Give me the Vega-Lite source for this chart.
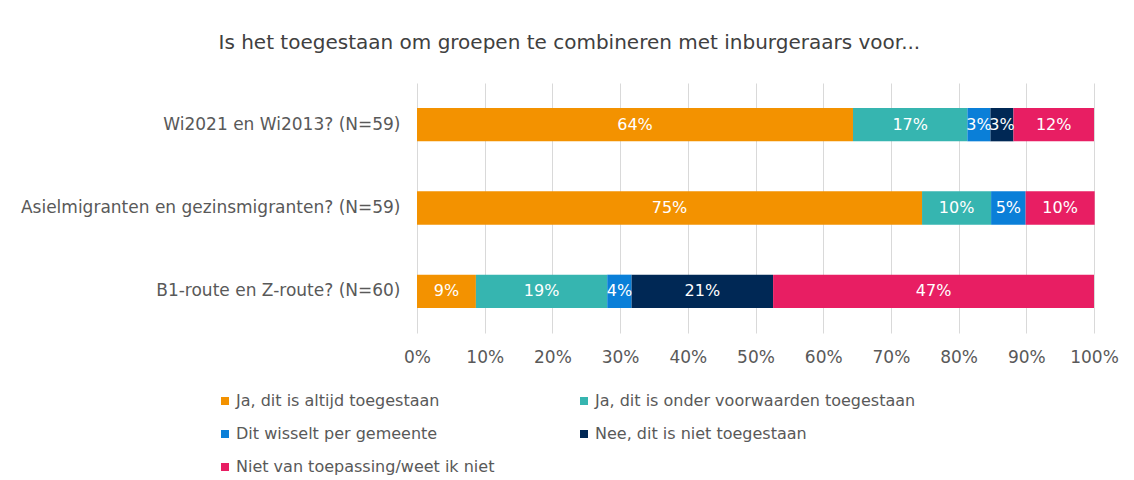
{
  "$schema": "https://vega.github.io/schema/vega-lite/v6.json",
  "autosize": "none",
  "width": 677,
  "height": 250,
  "padding": {"left": 417, "top": 83, "right": 40, "bottom": 147},
  "background": "white",
  "title": {
    "text": "Is het toegestaan om groepen te combineren met inburgeraars voor...",
    "anchor": "middle",
    "frame": "bounds",
    "font": "DejaVu Sans",
    "fontSize": 20,
    "fontWeight": "normal",
    "color": "#404040",
    "offset": 30
  },
  "config": {
    "view": {"stroke": null},
    "font": "DejaVu Sans"
  },
  "data": {
    "values": [
      {"vraag": "Wi2021 en Wi2013? (N=59)", "antwoord": "Ja, dit is altijd toegestaan", "k": 1, "aandeel": 0.644},
      {"vraag": "Wi2021 en Wi2013? (N=59)", "antwoord": "Ja, dit is onder voorwaarden toegestaan", "k": 2, "aandeel": 0.169},
      {"vraag": "Wi2021 en Wi2013? (N=59)", "antwoord": "Dit wisselt per gemeente", "k": 3, "aandeel": 0.034},
      {"vraag": "Wi2021 en Wi2013? (N=59)", "antwoord": "Nee, dit is niet toegestaan", "k": 4, "aandeel": 0.034},
      {"vraag": "Wi2021 en Wi2013? (N=59)", "antwoord": "Niet van toepassing/weet ik niet", "k": 5, "aandeel": 0.119},
      {"vraag": "Asielmigranten en gezinsmigranten? (N=59)", "antwoord": "Ja, dit is altijd toegestaan", "k": 1, "aandeel": 0.746},
      {"vraag": "Asielmigranten en gezinsmigranten? (N=59)", "antwoord": "Ja, dit is onder voorwaarden toegestaan", "k": 2, "aandeel": 0.102},
      {"vraag": "Asielmigranten en gezinsmigranten? (N=59)", "antwoord": "Dit wisselt per gemeente", "k": 3, "aandeel": 0.051},
      {"vraag": "Asielmigranten en gezinsmigranten? (N=59)", "antwoord": "Niet van toepassing/weet ik niet", "k": 5, "aandeel": 0.102},
      {"vraag": "B1-route en Z-route? (N=60)", "antwoord": "Ja, dit is altijd toegestaan", "k": 1, "aandeel": 0.087},
      {"vraag": "B1-route en Z-route? (N=60)", "antwoord": "Ja, dit is onder voorwaarden toegestaan", "k": 2, "aandeel": 0.194},
      {"vraag": "B1-route en Z-route? (N=60)", "antwoord": "Dit wisselt per gemeente", "k": 3, "aandeel": 0.036},
      {"vraag": "B1-route en Z-route? (N=60)", "antwoord": "Nee, dit is niet toegestaan", "k": 4, "aandeel": 0.209},
      {"vraag": "B1-route en Z-route? (N=60)", "antwoord": "Niet van toepassing/weet ik niet", "k": 5, "aandeel": 0.474}
    ]
  },
  "transform": [
    {"stack": "aandeel", "groupby": ["vraag"], "sort": [{"field": "k", "order": "ascending"}], "as": ["x0", "x1"]},
    {"calculate": "(datum.x0 + datum.x1) / 2", "as": "xm"}
  ],
  "encoding": {
    "y": {
      "field": "vraag",
      "type": "nominal",
      "sort": null,
      "title": null,
      "scale": {"paddingInner": 0.6, "paddingOuter": 0.3},
      "axis": {
        "domain": false,
        "ticks": false,
        "labelPadding": 17,
        "labelFont": "DejaVu Sans",
        "labelFontSize": 17,
        "labelColor": "#595959",
        "labelLimit": 500
      }
    }
  },
  "layer": [
    {
      "mark": {"type": "bar"},
      "encoding": {
        "x": {
          "field": "x0",
          "type": "quantitative",
          "scale": {"domain": [0, 1]},
          "title": null,
          "axis": {
            "format": ".0%",
            "values": [0, 0.1, 0.2, 0.3, 0.4, 0.5, 0.6, 0.7, 0.8, 0.9, 1],
            "domain": false,
            "ticks": false,
            "grid": true,
            "gridColor": "#d9d9d9",
            "gridWidth": 1,
            "labelFlush": false,
            "labelOverlap": false,
            "labelPadding": 16,
            "labelFont": "DejaVu Sans",
            "labelFontSize": 17,
            "labelColor": "#595959"
          }
        },
        "x2": {"field": "x1"},
        "color": {
          "field": "antwoord",
          "type": "nominal",
          "scale": {
            "domain": ["Ja, dit is altijd toegestaan", "Ja, dit is onder voorwaarden toegestaan", "Dit wisselt per gemeente", "Nee, dit is niet toegestaan", "Niet van toepassing/weet ik niet"],
            "range": ["#F39200", "#36B5B0", "#0A7FD8", "#002855", "#E81E63"]
          },
          "legend": {
            "title": null,
            "orient": "none",
            "direction": "horizontal",
            "legendX": -200,
            "legendY": 310,
            "columns": 2,
            "columnPadding": 81,
            "rowPadding": 17,
            "symbolType": "square",
            "symbolSize": 64,
            "symbolStrokeWidth": 0,
            "labelOffset": 3,
            "labelFont": "DejaVu Sans",
            "labelFontSize": 16,
            "labelColor": "#595959",
            "labelLimit": 400
          }
        }
      }
    },
    {
      "mark": {"type": "text", "color": "white", "fontSize": 16, "font": "DejaVu Sans", "baseline": "middle", "align": "center"},
      "encoding": {
        "x": {"field": "xm", "type": "quantitative"},
        "text": {"field": "aandeel", "type": "quantitative", "format": ".0%"}
      }
    }
  ]
}
